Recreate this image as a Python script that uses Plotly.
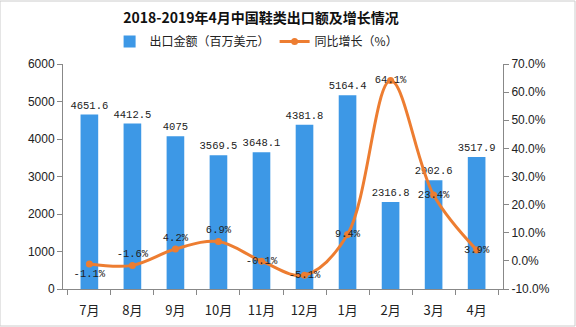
import plotly.graph_objects as go

months = ["7月", "8月", "9月", "10月", "11月", "12月", "1月", "2月", "3月", "4月"]
export_value = [4651.6, 4412.5, 4075, 3569.5, 3648.1, 4381.8, 5164.4, 2316.8, 2902.6, 3517.9]
growth = [-1.1, -1.6, 4.2, 6.9, -0.1, -5.1, 9.4, 64.1, 23.4, 3.9]
left_ticks = [0, 1000, 2000, 3000, 4000, 5000, 6000]
right_ticks = [-10, 0, 10, 20, 30, 40, 50, 60, 70]

bar_labels = [("%g" % v) if v != int(v) else str(int(v)) for v in export_value]
line_labels = ["%.1f%%" % g for g in growth]
line_pos = ["bottom center", "top center", "top center", "top center", "middle center",
            "middle center", "middle center", "middle center", "middle center", "middle center"]

font_family = "Noto Sans CJK SC"
bar_color = "#3d98e6"
line_color = "#ed7d31"

fig = go.Figure()
fig.add_trace(go.Bar(
    x=months, y=export_value, name="出口金额（百万美元）",
    marker=dict(color=bar_color, line=dict(width=0)), width=0.41,
    text=bar_labels, textposition="outside", cliponaxis=False, constraintext="none",
    textangle=0,
    textfont=dict(size=10.5, color="#222", family="Liberation Mono"),
))
fig.add_trace(go.Scatter(
    x=months, y=growth, name="同比增长（%）", yaxis="y2",
    mode="lines+markers+text",
    line=dict(color=line_color, width=3, shape="spline", smoothing=1.0),
    marker=dict(color=line_color, size=7),
    text=line_labels, textposition=line_pos, cliponaxis=False,
    textfont=dict(size=10.5, color="#222", family="Liberation Mono"),
))

fig.update_layout(
    width=576, height=327,
    margin=dict(l=63, r=73, t=64, b=38, autoexpand=False),
    paper_bgcolor="white", plot_bgcolor="white",
    font=dict(family=font_family, size=12, color="#222"),
    title=dict(text="<b>2018-2019年4月中国鞋类出口额及增长情况</b>", x=261 / 576, xanchor="center",
               y=1 - 18 / 327, yanchor="middle", font=dict(size=14, color="#111")),
    showlegend=True,
    legend=dict(orientation="h", x=0.44, xanchor="center", y=1.1, yanchor="middle",
                font=dict(size=12), bgcolor="rgba(0,0,0,0)", itemwidth=30),
    bargap=0.59,
    xaxis=dict(showline=True, linecolor="#888", ticks="outside", tickcolor="#888",
               ticklen=5, tickson="boundaries", showgrid=False, ticklabelstandoff=9,
               automargin=False, tickfont=dict(size=13)),
    yaxis=dict(range=[0, 6000], tickvals=left_ticks, showline=True, linecolor="#888",
               ticks="outside", tickcolor="#888", ticklen=5, showgrid=False, zeroline=False,
               automargin=False, tickfont=dict(size=12, family="Liberation Sans")),
    yaxis2=dict(range=[-10, 70], tickvals=right_ticks, ticktext=["%.1f%%" % t for t in right_ticks],
                overlaying="y", side="right", showline=True, linecolor="#888",
                ticks="outside", tickcolor="#888", ticklen=5, showgrid=False, zeroline=False,
                automargin=False, tickfont=dict(size=12, family="Liberation Sans")),
)
fig.add_shape(type="rect", xref="paper", yref="paper", x0=-63/440, x1=1+72/440,
              y0=-37/225, y1=1+63/225, line=dict(color="#ccc", width=1))

fig.write_html("out.html")
